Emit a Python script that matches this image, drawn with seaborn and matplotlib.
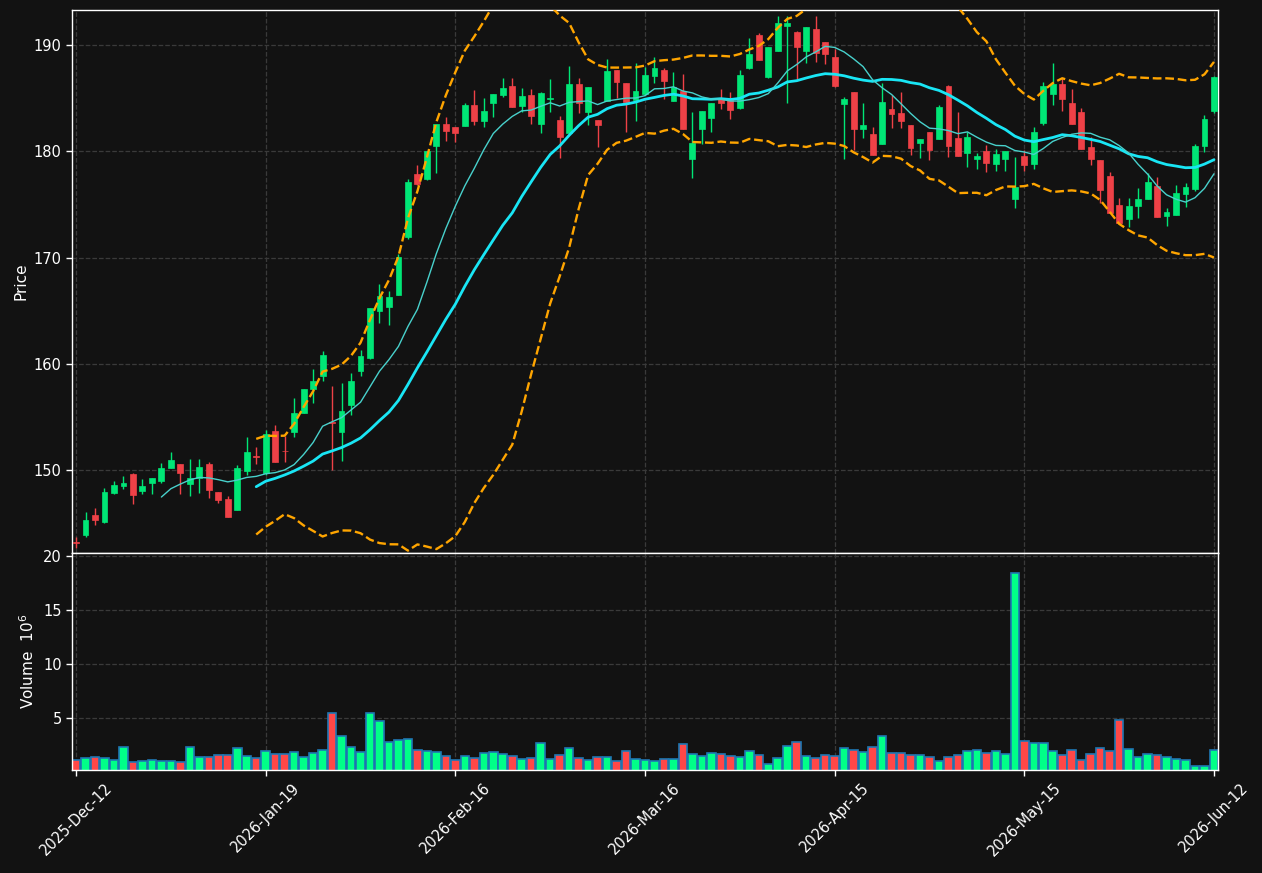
import matplotlib
matplotlib.use("Agg")
import matplotlib.pyplot as plt
import numpy as np
import pandas as pd
import seaborn as sns

# OHLC, one entry per session
opens = [143.25, 143.85, 145.79, 145.07, 147.89, 148.46, 149.65, 147.99, 148.83, 148.93,
         150.15, 150.59, 148.65, 149.21, 150.59, 147.96, 147.30, 146.29, 149.93, 151.34,
         149.72, 153.70, 151.82, 153.54, 155.42, 157.62, 158.90, 154.51, 153.54, 156.15,
         159.37, 160.56, 165.02, 165.39, 166.52, 171.98, 177.87, 177.44, 180.54, 182.58,
         182.30, 182.39, 184.37, 182.89, 184.59, 185.34, 186.15, 184.30, 185.31, 182.61,
         184.90, 182.95, 181.70, 186.34, 183.71, 182.95, 184.74, 187.66, 186.44, 184.84,
         185.40, 187.12, 187.66, 184.77, 185.71, 179.31, 182.07, 183.17, 184.99, 184.83,
         184.11, 187.81, 190.95, 187.03, 189.47, 191.83, 191.23, 189.47, 191.48, 190.32,
         188.91, 184.46, 185.59, 182.11, 181.64, 180.73, 183.96, 183.61, 182.49, 180.82,
         181.83, 181.20, 186.15, 181.23, 179.88, 179.29, 180.04, 178.82, 179.32, 175.52,
         179.57, 178.82, 182.70, 185.43, 186.34, 184.52, 183.71, 180.38, 179.19, 177.69,
         174.96, 173.67, 174.90, 175.55, 176.75, 173.96, 174.05, 176.03, 176.50, 180.54,
         183.80]
highs = [143.69, 146.04, 146.42, 148.36, 148.96, 149.40, 149.71, 149.12, 149.24, 150.65,
         151.69, 150.59, 151.03, 151.03, 150.72, 147.96, 147.58, 150.50, 153.10, 152.13,
         153.73, 154.26, 153.17, 156.77, 157.65, 159.50, 161.22, 157.87, 158.18, 159.12,
         161.32, 165.27, 167.53, 166.87, 170.35, 177.37, 178.72, 180.01, 182.60, 183.21,
         182.30, 184.52, 185.78, 184.99, 185.40, 186.87, 186.87, 185.93, 185.84, 185.56,
         186.78, 183.33, 188.03, 186.87, 186.03, 182.95, 188.66, 187.66, 186.44, 188.35,
         187.97, 188.91, 187.81, 187.44, 187.28, 183.67, 183.80, 184.52, 185.84, 185.62,
         187.62, 190.63, 191.17, 189.79, 192.74, 192.74, 191.36, 191.67, 192.74, 190.32,
         189.60, 185.09, 185.59, 184.52, 182.33, 186.41, 185.31, 185.62, 182.49, 181.14,
         181.83, 184.37, 186.25, 183.68, 181.86, 179.82, 180.57, 180.20, 180.04, 179.44,
         180.13, 182.27, 186.53, 188.35, 186.87, 185.84, 184.05, 181.39, 179.19, 178.09,
         175.59, 175.59, 176.53, 178.00, 177.56, 174.65, 176.84, 177.00, 180.70, 183.43,
         187.09]
lows = [142.66, 143.69, 144.82, 145.00, 147.71, 148.21, 146.80, 147.71, 147.71, 148.74,
        150.15, 147.71, 147.52, 147.83, 147.33, 146.89, 145.54, 146.29, 149.56, 150.56,
        149.56, 150.72, 150.72, 153.07, 155.36, 156.36, 158.43, 150.03, 150.81, 155.20,
        158.90, 160.50, 163.89, 163.64, 166.52, 171.73, 176.81, 177.31, 177.94, 181.01,
        180.92, 182.39, 182.52, 182.33, 183.21, 185.09, 184.21, 183.68, 182.55, 181.70,
        183.74, 179.35, 181.70, 183.58, 182.45, 180.38, 184.74, 185.06, 181.86, 182.86,
        185.30, 186.40, 184.90, 184.77, 182.07, 177.46, 180.66, 181.85, 183.96, 183.01,
        183.96, 187.72, 188.63, 186.93, 189.47, 184.58, 186.78, 188.35, 188.44, 188.19,
        186.03, 179.29, 180.13, 181.23, 179.66, 180.73, 182.17, 182.17, 179.63, 179.35,
        179.19, 181.20, 179.44, 179.60, 178.50, 178.32, 178.10, 178.19, 178.19, 174.65,
        178.19, 178.38, 182.45, 184.37, 183.83, 182.61, 180.26, 178.69, 175.12, 174.24,
        173.30, 172.92, 173.70, 175.55, 173.86, 172.98, 174.05, 174.77, 176.24, 179.91,
        183.58]
closes = [143.10, 145.32, 145.32, 147.96, 148.62, 148.80, 147.61, 148.49, 149.24, 150.18,
          150.94, 149.68, 149.24, 150.31, 148.15, 147.14, 145.54, 150.18, 151.72, 151.19,
          153.42, 150.72, 151.76, 155.39, 157.65, 158.40, 160.85, 154.39, 155.58, 158.40,
          160.75, 165.27, 166.40, 166.30, 170.10, 177.12, 176.96, 180.01, 182.58, 181.95,
          181.76, 184.37, 182.89, 183.77, 185.40, 185.97, 184.21, 185.21, 183.36, 185.49,
          185.00, 181.36, 186.34, 184.52, 186.03, 182.52, 187.56, 186.56, 184.68, 185.65,
          187.19, 187.81, 186.65, 186.09, 182.07, 180.76, 183.80, 184.52, 184.58, 183.89,
          187.15, 189.16, 188.63, 189.79, 192.05, 192.11, 189.85, 191.67, 189.29, 189.13,
          186.15, 184.90, 182.11, 182.49, 179.66, 184.62, 183.52, 182.89, 180.35, 181.14,
          180.16, 184.18, 180.54, 179.60, 181.33, 179.57, 178.94, 179.76, 180.04, 176.68,
          178.75, 181.83, 186.15, 186.34, 184.96, 182.61, 180.26, 179.32, 176.40, 174.24,
          173.30, 174.86, 175.49, 177.12, 173.86, 174.27, 176.06, 176.65, 180.51, 183.05,
          186.97]
# volume in millions
volumes = [1.05, 1.30, 1.39, 1.30, 1.11, 2.31, 0.89, 0.98, 1.07, 0.98,
           0.98, 0.89, 2.31, 1.39, 1.39, 1.57, 1.57, 2.22, 1.48, 1.30,
           1.94, 1.66, 1.66, 1.85, 1.39, 1.76, 2.04, 5.40, 3.33, 2.31,
           1.85, 5.40, 4.72, 2.78, 2.96, 3.05, 2.04, 1.94, 1.85, 1.48,
           1.11, 1.48, 1.30, 1.76, 1.85, 1.66, 1.48, 1.20, 1.30, 2.68,
           1.20, 1.57, 2.22, 1.30, 1.11, 1.39, 1.39, 1.02, 1.94, 1.20,
           1.11, 1.02, 1.20, 1.20, 2.59, 1.66, 1.48, 1.76, 1.66, 1.48,
           1.39, 1.94, 1.57, 0.74, 1.30, 2.41, 2.78, 1.48, 1.30, 1.57,
           1.48, 2.22, 2.04, 1.85, 2.31, 3.33, 1.76, 1.76, 1.57, 1.57,
           1.39, 1.02, 1.39, 1.57, 1.94, 2.04, 1.76, 1.94, 1.66, 18.43,
           2.87, 2.68, 2.68, 1.94, 1.57, 2.04, 1.11, 1.66, 2.22, 1.94,
           4.83, 2.13, 1.39, 1.66, 1.57, 1.39, 1.20, 1.11, 0.52, 0.52,
           2.04]
tick_labels = ["2025-Dec-12", "2026-Jan-19", "2026-Feb-16", "2026-Mar-16",
               "2026-Apr-15", "2026-May-15", "2026-Jun-12"]

BG = "#121212"
UP = "#00e676"
DOWN = "#ef4147"
VOL_UP = "#00ff88"
VOL_DOWN = "#ff4747"
GRID = "#3a3a3a"

sns.set_theme(style="dark", rc={
    "figure.facecolor": BG, "axes.facecolor": BG, "axes.edgecolor": "white",
    "axes.labelcolor": "white", "xtick.color": "white", "ytick.color": "white",
    "text.color": "white", "xtick.bottom": True, "ytick.left": True,
})
plt.rcParams["font.family"] = ["DejaVu Sans"]
plt.rcParams["font.size"] = 10

df = pd.DataFrame({"open": opens, "high": highs, "low": lows, "close": closes, "volume": volumes})
df["idx"] = np.arange(len(df))
df["dir"] = np.where(df["close"] >= df["open"], "up", "down")
df["sma10"] = df["close"].rolling(10).mean()
df["sma20"] = df["close"].rolling(20).mean()
std20 = df["close"].rolling(20).std()
df["bb_up"] = df["sma20"] + 2 * std20
df["bb_lo"] = df["sma20"] - 2 * std20

fig = plt.figure(figsize=(12.62, 8.73), dpi=100)
ax = fig.add_axes([0.0571, 0.3666, 0.9080, 0.6219])
ax_vol = fig.add_axes([0.0571, 0.1180, 0.9080, 0.2486], sharex=ax)

# candles: wicks then bodies
colors = np.where(df["dir"] == "up", UP, DOWN)
ax.vlines(df["idx"], df["low"], df["high"], colors=colors, linewidth=1, zorder=2)
body_lo = df[["open", "close"]].min(axis=1)
body_h = (df["close"] - df["open"]).abs().clip(lower=0.08)
ax.bar(df["idx"], body_h, bottom=body_lo, width=0.62, color=colors,
       edgecolor=colors, linewidth=0.5, zorder=3)

# overlays
sns.lineplot(data=df, x="idx", y="sma20", ax=ax, color="#19e6f5", linewidth=2, zorder=4)
sns.lineplot(data=df, x="idx", y="sma10", ax=ax, color="#48d1cc", linewidth=1, zorder=4)
sns.lineplot(data=df, x="idx", y="bb_up", ax=ax, color="orange", linewidth=1.7, linestyle="--", zorder=4)
sns.lineplot(data=df, x="idx", y="bb_lo", ax=ax, color="orange", linewidth=1.7, linestyle="--", zorder=4)

# volume
sns.barplot(data=df, x="idx", y="volume", hue="dir", palette={"up": VOL_UP, "down": VOL_DOWN},
            native_scale=True, dodge=False, width=0.9, edgecolor="#1f77b4", linewidth=1.2,
            saturation=1, errorbar=None, legend=False, ax=ax_vol)

ticks = np.arange(0, len(df), 20)
ax_vol.set_xticks(ticks)
ax_vol.set_xticklabels(tick_labels, rotation=45, ha="center")
ax.tick_params(axis="x", labelbottom=False, length=0)
ax.set_xlim(-0.42, len(df) - 1 + 0.42)
ax.set_ylim(142.2, 193.3)
ax.set_yticks([150, 160, 170, 180, 190])
ax_vol.set_ylim(0.3 * min(volumes), 1.1 * max(volumes))
ax_vol.set_yticks([5, 10, 15, 20])

ax.set_xlabel("")
ax.set_ylabel("Price", fontsize=11)
ax_vol.set_xlabel("")
ax_vol.set_ylabel("Volume  $10^{6}$", fontsize=11)

for a in (ax, ax_vol):
    a.grid(True, linestyle="--", color=GRID, linewidth=0.9)
    a.set_axisbelow(True)
    a.tick_params(colors="white", labelsize=10.5, length=4, width=1)
    for s in a.spines.values():
        s.set_color("white")
        s.set_linewidth(1)
        s.set_visible(True)

fig.savefig("out.png", dpi=100, facecolor=BG)
